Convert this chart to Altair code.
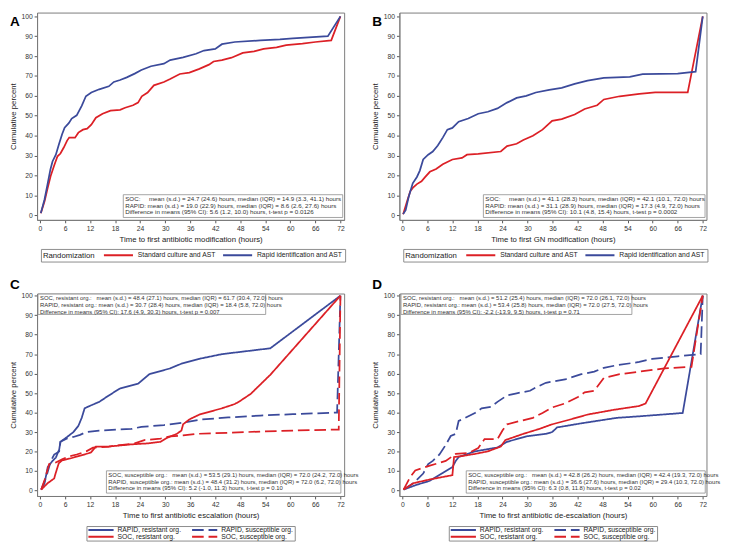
import altair as alt
import pandas as pd

FONT = "Liberation Sans"
RED = "#dc2026"
BLUE = "#3b4a9b"
BOXGRAY = "#8a8a8a"

# ---------------- Panel A: time to first antibiotic modification ----------------
a_soc_hr = [0.2, 1.1, 1.85, 2.6, 3.4, 4.2, 4.9, 5.7, 6.5, 7.0, 8.4, 9.2, 10.3, 11.3, 12.3, 13.4, 15.0, 16.9,
            19.2, 20.4, 22.3, 23.5, 24.4, 25.8, 27.3, 29.7, 31.2, 33.5, 35.8, 38.2, 40.5, 41.6, 43.6, 45.9,
            48.6, 51.3, 53.6, 56.7, 59.0, 62.9, 66.0, 69.8, 72.0]
a_soc_pct = [1, 7, 13.7, 20, 25, 29.6, 31, 34, 37.5, 39, 39, 41.5, 43, 43.5, 45.5, 49, 51, 52.6,
             53, 54, 55.3, 56.6, 59.8, 61.7, 65.3, 67, 68.5, 71, 71.7, 73.6, 75.7, 77.3, 78, 79.2,
             81.6, 82.4, 83.6, 84.4, 85.5, 86.3, 87.1, 87.9, 100]
a_rap_hr = [0.2, 1.1, 1.85, 2.5, 3.0, 3.8, 4.6, 5.3, 5.9, 6.9, 7.6, 8.8, 10.0, 11.0, 12.3, 14.2, 16.5, 17.7,
            19.2, 20.8, 22.7, 24.3, 26.6, 29.7, 31.2, 34.3, 37.4, 39.3, 42.0, 43.6, 46.7, 52.8, 57.5, 60.6,
            69.0, 72.0]
a_rap_pct = [1, 8, 16, 23, 27, 30.4, 36, 40.7, 44, 46.3, 48.6, 50.2, 55, 59.8, 61.7, 63.3, 64.8, 67,
             68, 69.3, 71.2, 73, 74.9, 76.2, 78, 79.4, 81.2, 82.8, 83.6, 86, 87.1, 87.9, 88.4, 88.9,
             90, 100]

# ---------------- Panel B: time to first GN modification ----------------
b_soc_hr = [0.2, 1.2, 1.9, 2.5, 3.5, 4.6, 5.4, 6.6, 8.1, 9.7, 12.0, 14.3, 15.5, 18.2, 23.6, 25.1, 27.4, 29.0,
            31.3, 33.6, 35.9, 38.2, 41.3, 43.7, 46.7, 48.3, 52.1, 56.8, 60.6, 68.4, 72.0]
b_soc_pct = [0.5, 7.3, 12, 13.7, 15.6, 17, 19, 21.8, 23.2, 25.6, 28, 28.8, 30.4, 30.8, 32, 34.7, 35.9, 37.8,
             39.9, 43, 47.4, 48.3, 50.6, 53.4, 55.3, 58.2, 59.8, 61, 61.7, 61.7, 100]
b_rap_hr = [0.2, 0.8, 1.5, 2.5, 3.5, 4.2, 5.0, 6.2, 7.3, 8.5, 9.7, 10.8, 12.0, 13.5, 15.8, 18.2, 20.5, 22.8,
            25.1, 27.4, 29.7, 32.0, 35.2, 38.2, 41.3, 44.4, 48.3, 54.5, 57.6, 66.0, 70.3, 72.0]
b_rap_pct = [0.5, 2.5, 9, 16, 19.2, 22.4, 28, 30.4, 32, 35, 39, 43, 43.9, 47, 48.6, 51, 52, 53.7,
             56.6, 59, 60, 61.7, 63, 64, 66, 67.7, 69, 69.6, 70.9, 71.2, 72.2, 100]

# ---------------- Panel C: time to first antibiotic escalation ----------------
c_rr_hr = [0.3, 1.1, 1.85, 3.0, 3.8, 4.6, 4.9, 6.5, 8.0, 9.2, 10.0, 10.7, 11.9, 14.2, 16.5, 19.2, 23.5, 26.2,
           31.2, 33.9, 38.2, 43.6, 55.2, 72.0]
c_rr_pct = [0.5, 3.8, 12, 15.2, 16.9, 21, 25, 27.5, 30, 33.2, 37.3, 42.2, 43.4, 45.5, 48.8, 52.4, 54.8, 59.7,
            62.7, 65.1, 67.6, 70, 73, 100]
c_rs_hr = [0.3, 1.5, 2.6, 3.4, 4.6, 4.9, 6.5, 8.0, 9.6, 11.1, 14.2, 21.9, 24.3, 29.7, 34.3, 38.9, 45.1, 52.8,
           60.6, 71.2, 72.0]
c_rs_pct = [0.5, 7, 15.2, 18.5, 20.1, 25, 26.7, 27.5, 28.6, 30, 30.8, 31.6, 32.7, 33.6, 34.9, 36.5, 37.5, 38.5,
            39.2, 40, 100]
c_sr_hr = [0.3, 1.85, 3.4, 3.7, 4.5, 5.3, 7.3, 10.3, 12.2, 13.4, 16.5, 21.9, 25.8, 28.9, 30.4, 32.8, 33.9, 34.3,
           35.8, 38.2, 43.6, 46.7, 48.2, 50.5, 55.2, 72.0]
c_sr_pct = [0.5, 3.8, 6.2, 8.5, 14.0, 15.5, 16.5, 18.3, 19.5, 22.6, 22.6, 23.7, 24.2, 25, 27, 29.1, 30.8, 34,
            36.5, 39, 42.2, 44.4, 46.3, 49.6, 59.4, 100]
c_ss_hr = [0.3, 1.1, 2.2, 3.8, 5.3, 6.5, 8.8, 11.1, 12.7, 16.5, 22.7, 25.0, 28.9, 31.2, 34.3, 37.4, 45.0, 52.8,
           60.6, 71.6, 72.0]
c_ss_pct = [0.5, 5.4, 13.6, 14.4, 16, 17.2, 18.5, 20.1, 22, 22.6, 24.2, 25.9, 26.7, 27.8, 28.3, 29.1, 29.6, 30.3,
            30.8, 31.3, 100]

# ---------------- Panel D: time to first antibiotic de-escalation ----------------
d_rr_hr = [0.3, 3.5, 6.6, 9.7, 12.0, 12.8, 13.5, 17.4, 22.8, 25.1, 29.7, 34.4, 35.9, 37.1, 42.9, 51.4, 56.8,
           67.2, 72.0]
d_rr_pct = [0.5, 3, 5, 9.0, 12.0, 15.2, 17.2, 20.1, 22.1, 25, 27.8, 29.1, 30, 32.4, 34.5, 37.3, 38.1,
            39.8, 100]
d_rs_hr = [0.3, 2.7, 5.0, 6.2, 7.3, 8.9, 10.4, 11.6, 12.8, 13.5, 15.1, 17.4, 19.0, 21.3, 22.8, 25.1, 27.4, 30.6,
           32.0, 34.4, 39.0, 42.9, 46.0, 48.3, 51.4, 56.8, 59.9, 66.0, 71.5, 72.0]
d_rs_pct = [0.5, 3.8, 8.7, 13.6, 15.2, 18.5, 23.4, 28, 29.1, 35.7, 37.3, 39.8, 42.2, 43, 45.5, 48.8, 49.9, 51.2,
            52.9, 55.3, 57, 59.7, 61, 63, 64.3, 66, 67.6, 68.9, 70, 100]
d_sr_hr = [0.3, 2.7, 6.6, 12.0, 12.4, 14.3, 17.4, 20.5, 23.6, 24.7, 29.0, 32.8, 35.9, 39.8, 44.4, 50.6, 56.8,
           58.3, 72.0]
d_sr_pct = [0.5, 3.8, 5.7, 7.9, 17.2, 17.7, 18.8, 20.1, 22.6, 25.9, 29.1, 31.6, 34, 36.2, 39, 41.4, 43.4,
            44.7, 100]
d_ss_hr = [0.3, 1.9, 3.1, 6.6, 10.4, 12.8, 15.9, 18.2, 19.7, 22.8, 24.0, 25.1, 28.2, 31.3, 33.6, 35.9, 39.0, 42.1,
           43.7, 46.0, 48.3, 52.1, 56.8, 62.8, 69.3, 72.0]
d_ss_pct = [0.5, 7, 10.3, 12.8, 15.2, 18.8, 19.3, 21.8, 26.4, 26.4, 30.8, 34, 35.7, 37.3, 39.8, 42.6, 44.7, 48,
            50.4, 51.2, 57.8, 59.7, 61, 62.7, 63.5, 100]

# ---------------- labels ----------------
rand_names = ["Standard culture and AST", "Rapid identification and AST"]
org_names = ["RAPID, resistant org.", "RAPID, susceptible org.", "SOC, resistant org.", "SOC, susceptible org."]

NB = "\u00a0"
a_text = [f"SOC:{NB*5}mean (s.d.) = 24.7 (24.6) hours, median (IQR) = 14.9 (3.3, 41.1) hours",
          "RAPID: mean (s.d.) = 19.0 (22.9) hours, median (IQR) = 8.6 (2.6, 27.6) hours",
          "Difference in means (95% CI): 5.6 (1.2, 10.0) hours, t-test p = 0.0126"]
b_text = [f"SOC:{NB*5}mean (s.d.) = 41.1 (28.3) hours, median (IQR) = 42.1 (10.1, 72.0) hours",
          "RAPID: mean (s.d.) = 31.1 (28.9) hours, median (IQR) = 17.3 (4.9, 72.0) hours",
          "Difference in means (95% CI): 10.1 (4.8, 15.4) hours, t-test p = 0.0002"]
c_top = [f"SOC, resistant org.:{NB*3}mean (s.d.) = 48.4 (27.1) hours, median (IQR) = 61.7 (30.4, 72.0) hours",
         "RAPID, resistant org.: mean (s.d.) = 30.7 (28.4) hours, median (IQR) = 18.4 (5.8, 72.0) hours",
         "Difference in means (95% CI): 17.6 (4.9, 30.3) hours, t-test p = 0.007"]
c_bot = [f"SOC, susceptible org.:{NB*3}mean (s.d.) = 53.5 (29.1) hours, median (IQR) = 72.0 (24.2, 72.0) hours",
         f"RAPID, susceptible org.:{NB}mean (s.d.) = 48.4 (31.2) hours, median (IQR) = 72.0 (6.2, 72.0) hours",
         "Difference in means (95% CI): 5.2 (-1.0, 11.3) hours, t-test p = 0.10"]
d_top = [f"SOC, resistant org.:{NB*3}mean (s.d.) = 51.2 (25.4) hours, median (IQR) = 72.0 (26.1, 72.0) hours",
         "RAPID, resistant org.: mean (s.d.) = 53.4 (25.8) hours, median (IQR) = 72.0 (27.5, 72.0) hours",
         "Difference in means (95% CI): -2.2 (-13.9, 9.5) hours, t-test p = 0.71"]
d_bot = [f"SOC, susceptible org.:{NB*3}mean (s.d.) = 42.8 (26.2) hours, median (IQR) = 42.4 (19.3, 72.0) hours",
         f"RAPID, susceptible org.:{NB}mean (s.d.) = 36.6 (27.6) hours, median (IQR) = 29.4 (10.3, 72.0) hours",
         "Difference in means (95% CI): 6.3 (0.8, 11.8) hours, t-test p = 0.02"]

W = 317
H1 = 214
H2 = 209


def curves_df(series):
    rows = []
    for name, hrs, pcts in series:
        for i, (h, p) in enumerate(zip(hrs, pcts)):
            rows.append({"series": name, "hour": h, "pct": p, "i": i})
    return pd.DataFrame(rows)


def text_box(x0, x1, y0, y1, lines, size):
    d = pd.DataFrame({"t": ["\n".join(lines)]})
    rect = alt.Chart(d).mark_rect(fill="white", stroke=BOXGRAY, strokeWidth=0.8).encode(
        x=alt.value(x0), x2=alt.value(x1), y=alt.value(y0), y2=alt.value(y1))
    txt = alt.Chart(d).mark_text(align="left", baseline="top", fontSize=size, font=FONT,
                                 lineBreak="\n", lineHeight=7, color="#333").encode(
        x=alt.value(x0 + 2), y=alt.value(y0 + 1.2), text="t:N")
    return [rect, txt]


def letter_mark(letter, ypos):
    d = pd.DataFrame({"t": [letter]})
    return alt.Chart(d).mark_text(align="left", baseline="alphabetic", fontSize=14, fontWeight="bold",
                                  font=FONT, color="black").encode(
        x=alt.value(-28), y=alt.value(ypos), text="t:N")


def panel(letter, letter_y, series, domain, colors, dashes, legend, ltitle, xtitle, H, ydom, boxes):
    df = curves_df(series)
    enc = dict(
        x=alt.X("hour:Q", scale=alt.Scale(domain=[-0.7, 72.9], nice=False, zero=False),
                axis=alt.Axis(values=list(range(0, 73, 6)), title=xtitle)),
        y=alt.Y("pct:Q", scale=alt.Scale(domain=ydom, nice=False, zero=False),
                axis=alt.Axis(values=list(range(0, 101, 10)), title="Cumulative percent")),
        color=alt.Color("series:N", scale=alt.Scale(domain=domain, range=colors), legend=legend,
                        title=ltitle),
        order="i:Q",
    )
    if dashes is not None:
        enc["strokeDash"] = alt.StrokeDash("series:N", scale=alt.Scale(domain=domain, range=dashes),
                                           legend=legend, title=ltitle)
    lines = alt.Chart(df).mark_line(strokeWidth=1.8, clip=True).encode(**enc)
    layers = [lines]
    for b in boxes:
        layers += text_box(*b)
    layers.append(letter_mark(letter, letter_y))
    return alt.layer(*layers).properties(width=W, height=H)


leg_common = dict(orient="none", direction="horizontal", columns=2, labelFontSize=7, labelFont=FONT,
                  symbolType="stroke", symbolStrokeWidth=2, strokeColor=BOXGRAY, fillColor="white",
                  labelColor="#222", labelLimit=300)

legA = alt.Legend(legendX=4, legendY=H1 + 30, titleOrient="left", titleFontSize=8,
                  titleFont=FONT, titleFontWeight="normal", titleColor="#222", titlePadding=8,
                  symbolSize=900, clipHeight=9, padding=2, columnPadding=6, labelOffset=4, **leg_common)
legC = alt.Legend(legendX=51, legendY=H2 + 31, symbolSize=676, clipHeight=6, padding=1, columnPadding=10,
                  rowPadding=0, labelOffset=3, **leg_common)

dash_r = [[1, 0], [12, 5], [1, 0], [12, 5]]
col4 = [BLUE, BLUE, RED, RED]

ydom1 = [-2.4, 101.9]
ydom2 = [-2.8, 101.1]

A = panel("A", 14, [(rand_names[0], a_soc_hr, a_soc_pct), (rand_names[1], a_rap_hr, a_rap_pct)],
          rand_names, [RED, BLUE], None, legA, "Randomization",
          "Time to first antibiotic modification (hours)", H1, ydom1,
          [(89, W - 1.5, H1 - 26, H1 - 2.5, a_text, 6.4)])
B = panel("B", 14, [(rand_names[0], b_soc_hr, b_soc_pct), (rand_names[1], b_rap_hr, b_rap_pct)],
          rand_names, [RED, BLUE], None, legA, "Randomization",
          "Time to first GN modification (hours)", H1, ydom1,
          [(86.7, W - 1.5, H1 - 26, H1 - 2.5, b_text, 6.4)])
C = panel("C", -5, [(org_names[0], c_rr_hr, c_rr_pct), (org_names[1], c_rs_hr, c_rs_pct),
                    (org_names[2], c_sr_hr, c_sr_pct), (org_names[3], c_ss_hr, c_ss_pct)],
          org_names, col4, dash_r, legC, None, "Time to first antibiotic escalation (hours)", H2, ydom2,
          [(1, 236, 0.6, 21.6, c_top, 6.1), (71.6, W - 3.4, H2 - 26, H2 - 3, c_bot, 6.1)])
D = panel("D", -5, [(org_names[0], d_rr_hr, d_rr_pct), (org_names[1], d_rs_hr, d_rs_pct),
                    (org_names[2], d_sr_hr, d_sr_pct), (org_names[3], d_ss_hr, d_ss_pct)],
          org_names, col4, dash_r, legC, None, "Time to first antibiotic de-escalation (hours)", H2, ydom2,
          [(1.7, 240, 0.6, 21.6, d_top, 6.1), (69, W - 1.3, H2 - 26, H2 - 3, d_bot, 6.1)])

res = dict(color="independent", strokeDash="independent")
chart = alt.concat(A, B, C, D, columns=2, spacing={"row": 76, "column": 57}, bounds="flush")
chart = chart.resolve_scale(**res).resolve_legend(**res)

chart = chart.properties(padding={"left": 0, "top": -5, "right": 0, "bottom": 0}).configure(
    font=FONT
).configure_view(stroke="#7a7a7a", strokeWidth=1).configure_axis(
    labelFont=FONT, titleFont=FONT, labelFontSize=7, titleFontSize=8, titleFontWeight="normal",
    tickSize=3, tickColor="#555", domainColor="#7a7a7a", labelColor="#333", titleColor="#222",
    grid=False, labelPadding=2, titlePadding=4
)

chart.save("out.html", embed_options={"renderer": "svg", "actions": False})
